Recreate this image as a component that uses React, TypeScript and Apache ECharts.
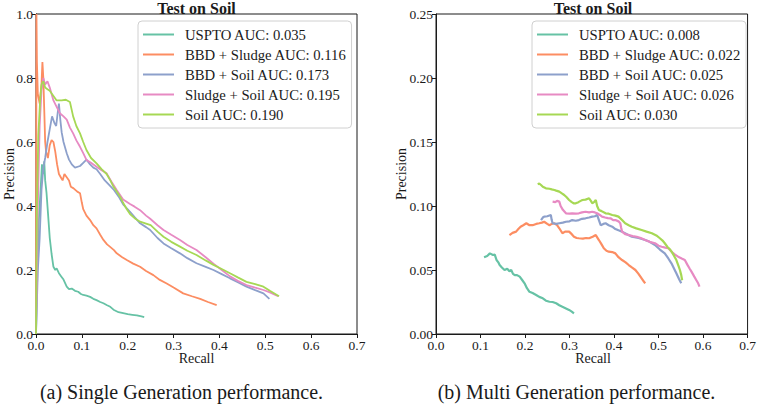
import React, { useEffect, useRef } from 'react';
import * as echarts from 'echarts';

// Set2 palette, same order as the legend
const colors = ['#66c2a5', '#fc8d62', '#8da0cb', '#e78ac3', '#a6d854'];

const namesSingle = [
  'USPTO AUC: 0.035',
  'BBD + Sludge AUC: 0.116',
  'BBD + Soil AUC: 0.173',
  'Sludge + Soil AUC: 0.195',
  'Soil AUC: 0.190',
];
const namesMulti = [
  'USPTO AUC: 0.008',
  'BBD + Sludge AUC: 0.022',
  'BBD + Soil AUC: 0.025',
  'Sludge + Soil AUC: 0.026',
  'Soil AUC: 0.030',
];

const recallTicks = [0, 0.1, 0.2, 0.3, 0.4, 0.5, 0.6, 0.7];

// (a) single generation, [recall, precision]
const usptoSingle = [
  [0, 0], [0.003, 0.2], [0.006, 0.35], [0.01, 0.45], [0.013, 0.53], [0.016, 0.5], [0.018, 0.54],
  [0.02, 0.48], [0.023, 0.44], [0.026, 0.38], [0.03, 0.3], [0.034, 0.25], [0.038, 0.21], [0.042, 0.2],
  [0.045, 0.205], [0.05, 0.19], [0.055, 0.18], [0.06, 0.17], [0.067, 0.148], [0.072, 0.14], [0.078, 0.142],
  [0.085, 0.135], [0.092, 0.132], [0.098, 0.125], [0.103, 0.122], [0.11, 0.12], [0.118, 0.116], [0.125, 0.11],
  [0.132, 0.106], [0.14, 0.1], [0.147, 0.096], [0.155, 0.09], [0.162, 0.085], [0.169, 0.076], [0.18, 0.068],
  [0.19, 0.065], [0.2, 0.062], [0.21, 0.06], [0.22, 0.058], [0.23, 0.055], [0.236, 0.053],
];
const bbdSludgeSingle = [
  [0, 0], [0.001, 1.0], [0.002, 0.85], [0.004, 0.75], [0.008, 0.72], [0.012, 0.78], [0.014, 0.85],
  [0.016, 0.8], [0.018, 0.7], [0.02, 0.6], [0.022, 0.57], [0.026, 0.55], [0.03, 0.59], [0.034, 0.606],
  [0.038, 0.6], [0.042, 0.57], [0.046, 0.53], [0.05, 0.5], [0.054, 0.49], [0.058, 0.48], [0.062, 0.5],
  [0.067, 0.49], [0.072, 0.48], [0.076, 0.46], [0.082, 0.455], [0.09, 0.445], [0.096, 0.44], [0.1, 0.41],
  [0.103, 0.39], [0.11, 0.37], [0.118, 0.356], [0.125, 0.34], [0.132, 0.33], [0.14, 0.31], [0.147, 0.294],
  [0.155, 0.28], [0.161, 0.273], [0.17, 0.262], [0.176, 0.252], [0.188, 0.24], [0.198, 0.231], [0.212, 0.22],
  [0.227, 0.21], [0.24, 0.197], [0.256, 0.184], [0.27, 0.169], [0.285, 0.158], [0.3, 0.145], [0.321, 0.127],
  [0.34, 0.118], [0.358, 0.11], [0.375, 0.1], [0.394, 0.09],
];
const bbdSoilSingle = [
  [0, 0], [0.004, 0.2], [0.008, 0.3], [0.012, 0.45], [0.016, 0.52], [0.02, 0.55], [0.025, 0.6], [0.03, 0.64],
  [0.035, 0.68], [0.04, 0.66], [0.044, 0.65], [0.048, 0.7], [0.05, 0.72], [0.053, 0.67], [0.056, 0.63],
  [0.06, 0.6], [0.067, 0.565], [0.072, 0.545], [0.078, 0.53], [0.085, 0.52], [0.096, 0.525], [0.103, 0.535],
  [0.11, 0.545], [0.118, 0.53], [0.125, 0.52], [0.132, 0.515], [0.14, 0.5], [0.15, 0.48], [0.16, 0.465],
  [0.17, 0.45], [0.18, 0.43], [0.19, 0.405], [0.205, 0.382], [0.215, 0.365], [0.227, 0.346], [0.24, 0.334],
  [0.249, 0.325], [0.265, 0.3], [0.278, 0.283], [0.295, 0.268], [0.314, 0.252], [0.33, 0.237], [0.35, 0.221],
  [0.37, 0.21], [0.387, 0.2], [0.405, 0.187], [0.423, 0.174], [0.44, 0.162], [0.459, 0.148], [0.478, 0.137],
  [0.496, 0.127], [0.509, 0.11],
];
const sludgeSoilSingle = [
  [0, 0], [0.004, 0.4], [0.008, 0.65], [0.012, 0.76], [0.016, 0.8], [0.02, 0.78], [0.025, 0.79], [0.03, 0.77],
  [0.034, 0.75], [0.038, 0.73], [0.045, 0.71], [0.052, 0.69], [0.06, 0.68], [0.067, 0.67], [0.074, 0.645],
  [0.081, 0.627], [0.088, 0.605], [0.096, 0.585], [0.103, 0.565], [0.11, 0.544], [0.12, 0.535], [0.132, 0.523],
  [0.143, 0.512], [0.154, 0.502], [0.165, 0.475], [0.176, 0.45], [0.19, 0.42], [0.205, 0.406], [0.215, 0.398],
  [0.227, 0.387], [0.24, 0.37], [0.249, 0.36], [0.265, 0.34], [0.278, 0.325], [0.295, 0.31], [0.314, 0.294],
  [0.33, 0.278], [0.35, 0.2625], [0.37, 0.24], [0.387, 0.22], [0.405, 0.2], [0.423, 0.18], [0.44, 0.166],
  [0.459, 0.153], [0.478, 0.145], [0.496, 0.1375], [0.51, 0.13], [0.528, 0.118],
];
const soilSingle = [
  [0, 0], [0.002, 0.4], [0.005, 0.62], [0.009, 0.73], [0.012, 0.78], [0.016, 0.79], [0.02, 0.77],
  [0.025, 0.765], [0.03, 0.76], [0.035, 0.75], [0.04, 0.74], [0.045, 0.73], [0.049, 0.73], [0.056, 0.73],
  [0.065, 0.732], [0.074, 0.725], [0.081, 0.68], [0.088, 0.65], [0.096, 0.627], [0.103, 0.6], [0.11, 0.575],
  [0.12, 0.55], [0.132, 0.533], [0.143, 0.515], [0.154, 0.5], [0.162, 0.48], [0.169, 0.46], [0.176, 0.445],
  [0.183, 0.43], [0.19, 0.41], [0.198, 0.39], [0.205, 0.375], [0.215, 0.362], [0.227, 0.351], [0.24, 0.345],
  [0.25, 0.34], [0.265, 0.32], [0.278, 0.304], [0.295, 0.288], [0.314, 0.273], [0.33, 0.26], [0.35, 0.247],
  [0.37, 0.23], [0.387, 0.216], [0.405, 0.203], [0.423, 0.19], [0.44, 0.177], [0.459, 0.163], [0.478, 0.156],
  [0.496, 0.148], [0.51, 0.135], [0.53, 0.118],
];

// (b) multi generation
const usptoMulti = [
  [0.108, 0.06], [0.115, 0.061], [0.121, 0.063], [0.128, 0.0617], [0.132, 0.062], [0.136, 0.0578], [0.14, 0.056],
  [0.143, 0.0539], [0.148, 0.052], [0.154, 0.05], [0.16, 0.051], [0.165, 0.049], [0.169, 0.05], [0.173, 0.047],
  [0.177, 0.046], [0.182, 0.046], [0.188, 0.0448], [0.194, 0.042], [0.199, 0.0396], [0.204, 0.036], [0.21, 0.033],
  [0.217, 0.032], [0.225, 0.0305], [0.232, 0.029], [0.24, 0.0279], [0.247, 0.026], [0.255, 0.0252], [0.262, 0.025],
  [0.27, 0.024], [0.277, 0.0225], [0.284, 0.0213], [0.292, 0.02], [0.299, 0.0188], [0.305, 0.0175], [0.31, 0.0162],
];
const bbdSludgeMulti = [
  [0.165, 0.0773], [0.172, 0.079], [0.18, 0.08], [0.185, 0.082], [0.19, 0.0838], [0.196, 0.085], [0.203, 0.0865],
  [0.21, 0.085], [0.217, 0.085], [0.225, 0.086], [0.232, 0.0865], [0.238, 0.087], [0.243, 0.0877], [0.25, 0.086],
  [0.255, 0.085], [0.26, 0.086], [0.266, 0.0865], [0.272, 0.085], [0.277, 0.0826], [0.284, 0.0787], [0.29, 0.08],
  [0.299, 0.08], [0.305, 0.078], [0.31, 0.076], [0.316, 0.075], [0.321, 0.0748], [0.33, 0.0745], [0.337, 0.075],
  [0.344, 0.0748], [0.352, 0.076], [0.359, 0.0773], [0.366, 0.0734], [0.372, 0.07], [0.377, 0.067], [0.383, 0.065],
  [0.388, 0.0643], [0.396, 0.064], [0.403, 0.063], [0.41, 0.06], [0.418, 0.0578], [0.426, 0.056], [0.433, 0.0539],
  [0.44, 0.052], [0.448, 0.05], [0.455, 0.047], [0.462, 0.0435], [0.467, 0.041], [0.47, 0.0396],
];
const bbdSoilMulti = [
  [0.236, 0.089], [0.24, 0.091], [0.243, 0.0917], [0.25, 0.092], [0.258, 0.093], [0.26, 0.089], [0.262, 0.0865],
  [0.27, 0.086], [0.277, 0.0865], [0.285, 0.087], [0.292, 0.0877], [0.3, 0.088], [0.306, 0.089], [0.314, 0.0885],
  [0.321, 0.089], [0.328, 0.09], [0.336, 0.0904], [0.344, 0.091], [0.351, 0.0917], [0.357, 0.092], [0.362, 0.093],
  [0.366, 0.089], [0.37, 0.085], [0.376, 0.086], [0.381, 0.0865], [0.388, 0.085], [0.396, 0.0838], [0.403, 0.082],
  [0.41, 0.081], [0.418, 0.08], [0.429, 0.078], [0.44, 0.076], [0.455, 0.075], [0.47, 0.0734], [0.48, 0.072],
  [0.492, 0.0695], [0.503, 0.066], [0.514, 0.063], [0.522, 0.059], [0.529, 0.0552], [0.535, 0.051], [0.54, 0.0474],
  [0.546, 0.043], [0.551, 0.0396],
];
const sludgeSoilMulti = [
  [0.262, 0.1034], [0.268, 0.103], [0.272, 0.104], [0.277, 0.1034], [0.28, 0.1], [0.285, 0.097], [0.292, 0.0943],
  [0.3, 0.094], [0.306, 0.0943], [0.314, 0.094], [0.321, 0.0943], [0.328, 0.095], [0.336, 0.0955], [0.344, 0.095],
  [0.351, 0.0955], [0.357, 0.095], [0.362, 0.0943], [0.368, 0.093], [0.373, 0.0917], [0.38, 0.091], [0.386, 0.0905],
  [0.392, 0.0904], [0.398, 0.089], [0.403, 0.089], [0.41, 0.088], [0.414, 0.0865], [0.416, 0.083], [0.418, 0.08],
  [0.425, 0.078], [0.433, 0.0773], [0.442, 0.0765], [0.451, 0.076], [0.46, 0.075], [0.47, 0.0734], [0.48, 0.072],
  [0.492, 0.0709], [0.5, 0.069], [0.507, 0.0682], [0.515, 0.0675], [0.522, 0.067], [0.53, 0.064], [0.537, 0.062],
  [0.544, 0.0604], [0.552, 0.059], [0.559, 0.0578], [0.565, 0.054], [0.57, 0.051], [0.574, 0.0487], [0.58, 0.045],
  [0.585, 0.042], [0.589, 0.0396], [0.592, 0.037],
];
const soilMulti = [
  [0.2285, 0.117], [0.232, 0.1175], [0.236, 0.1164], [0.24, 0.115], [0.247, 0.1138], [0.255, 0.1135], [0.26, 0.113],
  [0.266, 0.1125], [0.27, 0.112], [0.277, 0.1112], [0.282, 0.11], [0.288, 0.1086], [0.293, 0.107], [0.299, 0.1047],
  [0.305, 0.103], [0.31, 0.102], [0.314, 0.1021], [0.32, 0.103], [0.325, 0.104], [0.329, 0.1047], [0.336, 0.105],
  [0.344, 0.106], [0.348, 0.104], [0.351, 0.1021], [0.355, 0.103], [0.359, 0.1047], [0.362, 0.1], [0.366, 0.0969],
  [0.372, 0.096], [0.381, 0.0943], [0.388, 0.094], [0.396, 0.093], [0.403, 0.0925], [0.41, 0.0917], [0.418, 0.089],
  [0.425, 0.0865], [0.433, 0.085], [0.44, 0.0838], [0.45, 0.0825], [0.462, 0.0812], [0.473, 0.08], [0.485, 0.0787],
  [0.495, 0.077], [0.503, 0.0748], [0.509, 0.073], [0.514, 0.0709], [0.52, 0.068], [0.526, 0.066], [0.53, 0.064],
  [0.535, 0.061], [0.54, 0.0578], [0.545, 0.053], [0.548, 0.05], [0.551, 0.046], [0.553, 0.042],
];

const singleData = [usptoSingle, bbdSludgeSingle, bbdSoilSingle, sludgeSoilSingle, soilSingle];
const multiData = [usptoMulti, bbdSludgeMulti, bbdSoilMulti, sludgeSoilMulti, soilMulti];

const FONT = 'Liberation Serif';
const INK = '#1a1a1a';

const App: React.FC = () => {
  const chartRef = useRef<HTMLDivElement>(null);

  useEffect(() => {
    if (!chartRef.current) return;
    const chart = echarts.init(chartRef.current, undefined, { renderer: 'svg' });

    const grids = [
      { left: 36, top: 14, width: 321, height: 320 },
      { left: 436, top: 14, width: 314, height: 320 },
    ];

    const xAxis = (gridIndex: number) => ({
      type: 'value',
      gridIndex,
      min: 0,
      max: recallTicks[recallTicks.length - 1],
      interval: 0.1,
      axisLine: { show: true, lineStyle: { color: INK, width: 1 } },
      axisTick: { show: true, inside: false, length: 4, lineStyle: { color: INK } },
      axisLabel: {
        margin: 4,
        color: INK,
        fontFamily: FONT,
        fontSize: 13.5,
        formatter: (v: number) => v.toFixed(1),
      },
      splitLine: { show: false },
    });

    const yAxis = (gridIndex: number, max: number, interval: number, digits: number) => ({
      type: 'value',
      gridIndex,
      min: 0,
      max,
      interval,
      axisLine: { show: true, lineStyle: { color: INK, width: 1 } },
      axisTick: { show: true, inside: false, length: 4, lineStyle: { color: INK } },
      axisLabel: {
        margin: 3,
        color: INK,
        fontFamily: FONT,
        fontSize: 13.5,
        formatter: (v: number) => v.toFixed(digits),
      },
      splitLine: { show: false },
    });

    const makeSeries = (names: string[], data: number[][][], axisIndex: number, width: number) =>
      names.map((name, i) => ({
        name,
        type: 'line',
        xAxisIndex: axisIndex,
        yAxisIndex: axisIndex,
        data: data[i],
        showSymbol: false,
        symbol: 'none',
        color: colors[i],
        itemStyle: { color: colors[i] },
        lineStyle: { color: colors[i], width },
        z: 2 + i,
      }));

    const legend = (left: number, names: string[]) => ({
      data: names,
      orient: 'vertical',
      left,
      top: 21,
      icon: 'rect',
      itemWidth: 31,
      itemHeight: 2,
      itemGap: 5,
      padding: [6, 5, 6, 5],
      backgroundColor: '#fff',
      borderColor: '#d0d0d0',
      borderWidth: 1,
      borderRadius: 4,
      selectedMode: false,
      textStyle: {
        color: INK,
        fontFamily: FONT,
        fontSize: 14.7,
        lineHeight: 15,
        padding: [0, 0, 0, 6],
      },
    });

    const label = (text: string, x: number, y: number, size: number, bold = false, rotation = 0) => ({
      type: 'text',
      x,
      y,
      rotation,
      style: {
        text,
        fill: INK,
        font: `${bold ? 'bold ' : ''}${size}px ${FONT}`,
        textAlign: 'center',
        verticalAlign: 'middle',
      },
    });

    const option: any = {
      animation: false,
      backgroundColor: '#fff',
      grid: grids.map((g) => ({ ...g, show: true, borderColor: INK, borderWidth: 1, backgroundColor: 'transparent' })),
      xAxis: [xAxis(0), xAxis(1)],
      yAxis: [yAxis(0, 1, 0.2, 1), yAxis(1, 0.25, 0.05, 2)],
      legend: [legend(138, namesSingle), legend(532, namesMulti)],
      series: [
        ...makeSeries(namesSingle, singleData, 0, 1.8),
        ...makeSeries(namesMulti, multiData, 1, 2.2),
      ],
      graphic: [
        label('Test on Soil', 196.5, 8.5, 16, true),
        label('Test on Soil', 593, 8.5, 16, true),
        label('Recall', 196.5, 358, 14),
        label('Recall', 593, 358, 14),
        label('Precision', 9, 174, 14, false, Math.PI / 2),
        label('Precision', 401, 174, 14, false, Math.PI / 2),
        label('(a) Single Generation performance.', 181.5, 391.5, 20),
        label('(b) Multi Generation performance.', 576.5, 391.5, 20),
      ],
    };

    chart.setOption(option);

    return () => {
      chart.dispose();
    };
  }, []);

  return (
    <div
      ref={chartRef}
      style={{ position: 'fixed', left: 0, top: 0, width: 759, height: 404 }}
    />
  );
};

export default App;
